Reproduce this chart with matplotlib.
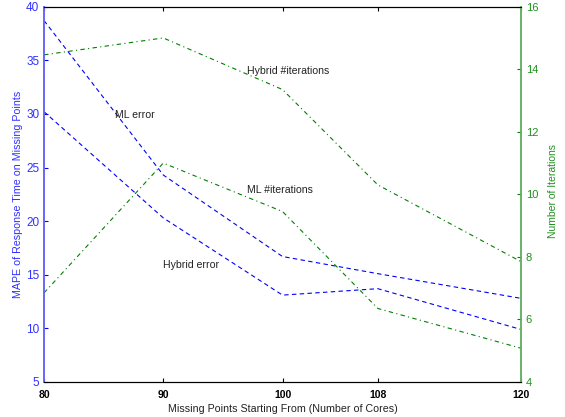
import matplotlib
matplotlib.use("Agg")
import matplotlib.pyplot as plt

plt.rcParams['font.family'] = ['Liberation Sans', 'DejaVu Sans']

cores = [80, 90, 100, 108, 120]
ml_error = [38.7, 24.3, 16.7, 15.1, 12.8]
hybrid_error = [30.2, 20.3, 13.1, 13.7, 9.9]
hybrid_iter = [14.46, 15.0, 13.35, 10.3, 7.85]
ml_iter = [6.85, 11.0, 9.45, 6.35, 5.08]

blue = '#0000ff'
green = '#008000'

fig = plt.figure(figsize=(5.65, 4.17), dpi=100)
ax = fig.add_axes([0.078, 0.084, 0.844, 0.9])
ax2 = ax.twinx()

ax.plot(cores, ml_error, color=blue, linestyle=(0, (4, 3)), linewidth=0.8)
ax.plot(cores, hybrid_error, color=blue, linestyle=(0, (4, 3)), linewidth=0.8)
ax2.plot(cores, hybrid_iter, color=green, linestyle=(0, (4, 3, 1, 3)), linewidth=0.8)
ax2.plot(cores, ml_iter, color=green, linestyle=(0, (4, 3, 1, 3)), linewidth=0.8)

ax.set_xlim(80, 120)
ax.set_xticks(cores)
ax.set_xticklabels([str(c) for c in cores], fontweight='bold', fontsize=7.5)
ax.set_ylim(5, 40)
ax.set_yticks(range(5, 41, 5))
ax2.set_ylim(4, 16)
ax2.set_yticks(range(4, 17, 2))

ax.tick_params(axis='x', direction='in', length=3, top=True, labelsize=7.5, pad=6)
ax.tick_params(axis='y', direction='in', length=3, colors=blue, labelsize=8.5, labelcolor='#3030ff')
ax2.tick_params(axis='y', direction='in', length=3, colors=green, labelsize=8, labelcolor='#209020')

for a in (ax, ax2):
    a.spines['left'].set_color('#6666ff')
    a.spines['right'].set_color('#66b366')
    a.spines['top'].set_color('black')
    a.spines['bottom'].set_color('black')
    a.spines['left'].set_linewidth(1.2)
    a.spines['right'].set_linewidth(1.2)

ax.set_xlabel('Missing Points Starting From (Number of Cores)', fontsize=7.7, color='#222222', labelpad=3)
ax.set_ylabel('MAPE of Response Time on Missing Points', fontsize=7.7, color='#3030ff', labelpad=2)
ax2.set_ylabel('Number of Iterations', fontsize=7.5, color='#209020')
ax2.yaxis.set_label_coords(1.056, 0.51)

ax.text(85.95, 29.9, 'ML error', fontsize=7.6, color='#222222', va='center')
ax.text(90.0, 15.9, 'Hybrid error', fontsize=7.6, color='#222222', va='center')
ax.text(97.0, 34.0, 'Hybrid #iterations', fontsize=7.6, color='#222222', va='center')
ax.text(97.0, 22.9, 'ML #iterations', fontsize=7.6, color='#222222', va='center')

fig.savefig('out.png', dpi=100)
